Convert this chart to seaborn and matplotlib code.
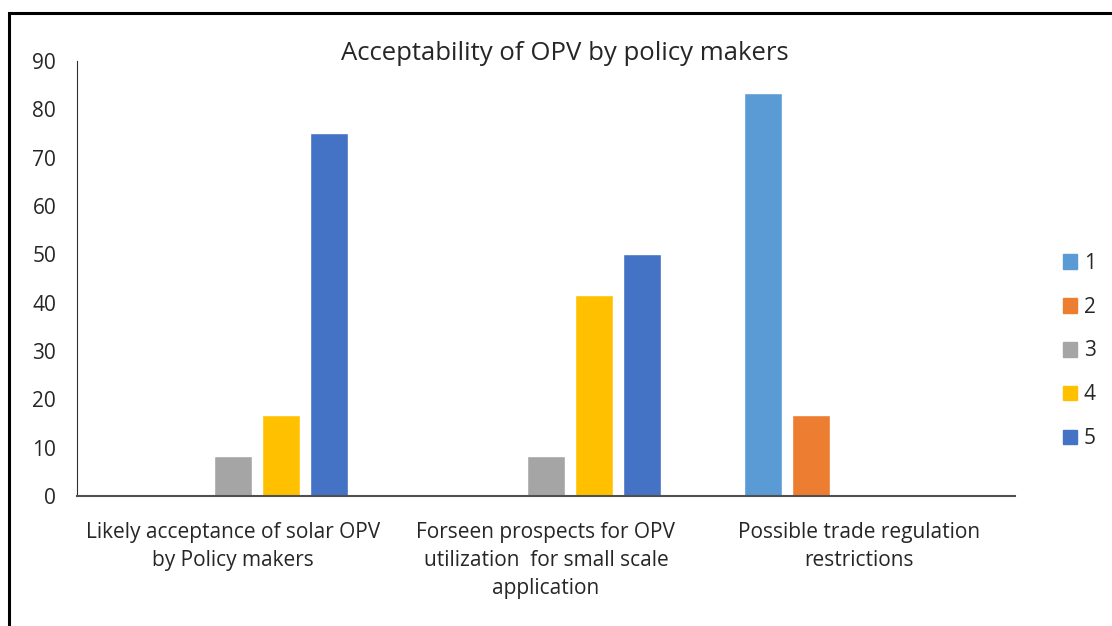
import matplotlib
matplotlib.use("Agg")
import matplotlib.pyplot as plt
import seaborn as sns
import pandas as pd
from matplotlib.patches import Rectangle

categories = ["Likely acceptance of solar OPV\nby Policy makers",
              "Forseen prospects for OPV\nutilization  for small scale\napplication",
              "Possible trade regulation\nrestrictions"]
series = ["1", "2", "3", "4", "5"]
values = {
    "1": [0, 0, 83.33],
    "2": [0, 0, 16.67],
    "3": [8.33, 8.33, 0],
    "4": [16.67, 41.67, 0],
    "5": [75.0, 50.0, 0],
}
colors = ["#5B9BD5", "#ED7D31", "#A5A5A5", "#FFC000", "#4472C4"]
yticks = [0, 10, 20, 30, 40, 50, 60, 70, 80, 90]

rows = []
for s in series:
    for c, v in zip(categories, values[s]):
        rows.append({"category": c, "series": s, "value": v})
df = pd.DataFrame(rows)

sns.set_theme(style="white")
plt.rcParams["font.family"] = ["Open Sans", "DejaVu Sans"]

fig = plt.figure(figsize=(11.12, 6.26), dpi=100)
ax = fig.add_axes([77/1112, 1-496/626, (1015-77)/1112, (496-61)/626])

sns.barplot(data=df, x="category", y="value", hue="series", hue_order=series,
            palette=colors, width=0.768, gap=0.21, ax=ax, legend=False,
            saturation=1, errorbar=None)

ax.set_ylim(0, 90)
ax.set_xlim(-0.5, 2.5)
ax.set_yticks(yticks)
ax.set_yticklabels([str(t) for t in yticks], fontsize=15)
ax.tick_params(axis="y", length=0, pad=15)
ax.tick_params(axis="x", length=0, pad=19)
ax.set_xticks(range(len(categories)))
ax.set_xticklabels(categories, fontsize=15, linespacing=1.42)
ax.set_xlabel("")
ax.set_ylabel("")
for side in ["top", "right"]:
    ax.spines[side].set_visible(False)
ax.spines["left"].set_color("#303030")
ax.spines["left"].set_linewidth(0.8)
ax.spines["bottom"].set_color("#505050")
ax.spines["bottom"].set_linewidth(1.5)

fig.text(565/1112, 1-53/626, "Acceptability of OPV by policy makers",
         ha="center", va="center", fontsize=18.5)

# legend
handles = [Rectangle((0, 0), 1, 1, color=c) for c in colors]
fig.legend(handles, series, loc="center left", bbox_to_anchor=(1044/1112, 1-351/626),
           frameon=False, fontsize=15, handlelength=0.7, handleheight=0.7,
           handletextpad=0.3, labelspacing=1.1)

# figure border
fig.patches.append(Rectangle((9/1112, -0.1), 1.2, 1-13/626+0.1, transform=fig.transFigure,
                             fill=False, edgecolor="black", linewidth=2.2))

fig.savefig("out.png", dpi=100)
